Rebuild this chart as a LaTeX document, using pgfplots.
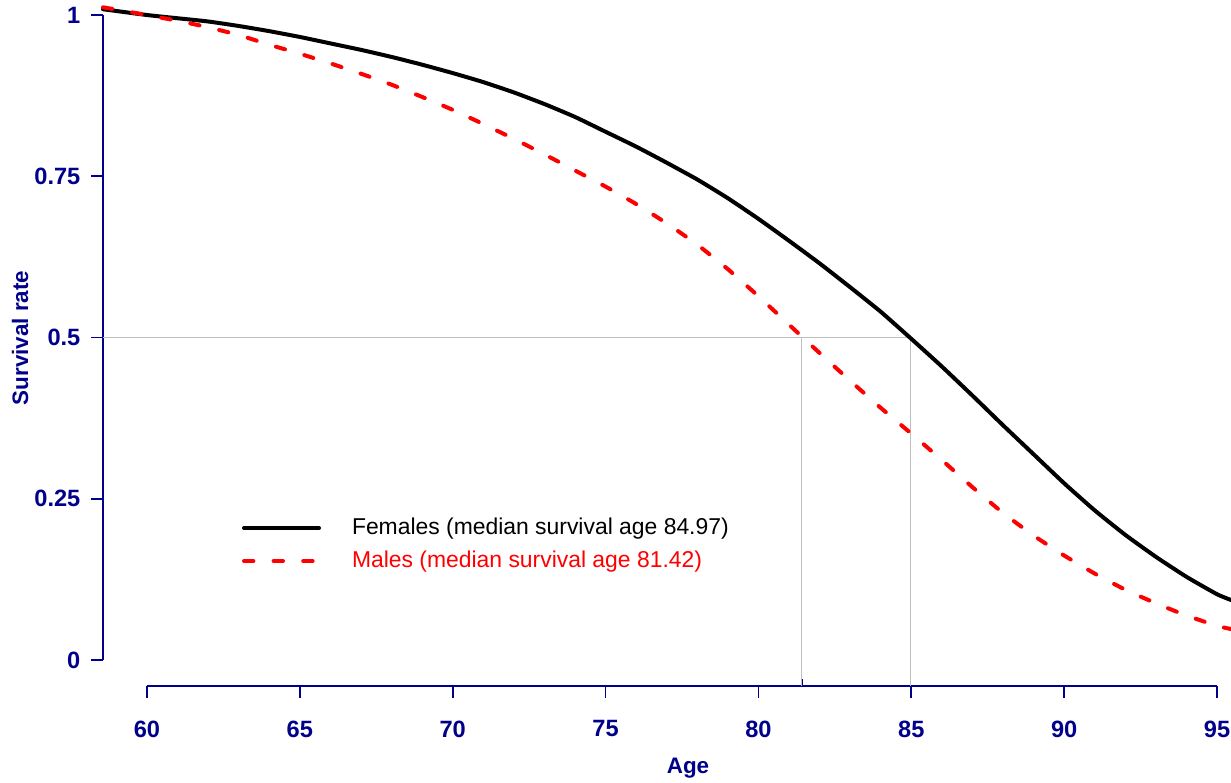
\documentclass[border=0pt]{standalone}
\usepackage{pgfplots}
\pgfplotsset{compat=1.18}
\usepackage{fontspec}
\setmainfont{Liberation Sans}
\definecolor{axnavy}{RGB}{0,0,139}
\definecolor{rgrey}{RGB}{190,190,190}
\definecolor{rred}{RGB}{255,0,0}

\pgfplotstableread{
age  val
58.561 1.009
60 1.000
61 0.995
62 0.990
63 0.983
64 0.975
65 0.966
66 0.956
67 0.946
68 0.935
69 0.923
70 0.910
71 0.896
72 0.880
73 0.862
74 0.842
75 0.819
76 0.796
77 0.771
78 0.745
79 0.716
80 0.684
81 0.650
82 0.615
83 0.578
84 0.540
85 0.498
86 0.455
87 0.410
88 0.364
89 0.319
90 0.274
91 0.232
92 0.194
93 0.160
94 0.129
95 0.102
95.458 0.093
}\females

\pgfplotstableread{
age  val
58.561 1.012
60 1.000
61 0.991
62 0.981
63 0.969
64 0.954
65 0.940
66 0.925
67 0.909
68 0.892
69 0.873
70 0.853
71 0.831
72 0.808
73 0.784
74 0.759
75 0.734
76 0.707
77 0.677
78 0.644
79 0.606
80 0.564
81 0.520
82 0.476
83 0.433
84 0.391
85 0.351
86 0.310
87 0.268
88 0.228
89 0.193
90 0.162
91 0.134
92 0.109
93 0.088
94 0.069
95 0.053
95.458 0.048
}\males

\begin{document}
\begin{tikzpicture}
\begin{axis}[
  name=ax,
  scale only axis, width=564pt, height=343pt,
  xmin=58.561, xmax=95.458, ymin=-0.0403, ymax=1.0233,
  axis x line*=bottom, axis y line*=left,
  axis line style={draw=none},
  clip=false,
  xtick={60,65,70,75,80,85,90,95},
  xticklabels={60,65,70,75,80,85,90,95},
  ytick={0,0.25,0.5,0.75,1},
  yticklabels={0,0.25,0.5,0.75,1},
  tick align=outside, major tick length=5.8pt,
  tick style={axnavy, line width=0.8pt},
  ticklabel style={font=\fontsize{11.8}{13}\selectfont\bfseries, text=axnavy},
  xticklabel style={yshift=-8pt},
  yticklabel style={xshift=-2pt},
  extra x ticks={81.42,84.97},
  extra x tick labels={},
  extra x tick style={tick align=inside, major tick length=3.5pt, grid=none},
  xlabel={Age},
  ylabel={Survival rate},
  label style={font=\fontsize{11.2}{13}\selectfont\bfseries, text=axnavy},
  xlabel style={at={(axis description cs:0.5186,0)}, anchor=center, yshift=-41pt},
  ylabel style={at={(axis description cs:0,0.5)}, anchor=center, yshift=41.5pt, xshift=2.5pt},
  legend style={at={(axis cs:63.108,0.179)}, anchor=west, draw=none, fill=none,
    inner sep=0pt, outer sep=0pt, row sep=4.5pt,
    font=\fontsize{11.45}{14}\selectfont,
    nodes={inner sep=0pt, text height=9pt, text depth=3pt},
    /tikz/every odd column/.append style={column sep=15.5pt}},
  legend image code/.code={\draw[#1] (0pt,0pt) -- (37.5pt,0pt);},
  legend cell align=left,
]
\draw[axnavy, line width=0.8pt] (axis cs:60,-0.0403) -- (axis cs:95,-0.0403);
\draw[axnavy, line width=0.8pt] (axis cs:58.561,0) -- (axis cs:58.561,1);
\addplot[forget plot, rgrey, line width=0.6pt] coordinates {(58.561,0.5) (84.97,0.5)};
\addplot[forget plot, rgrey, line width=0.6pt] coordinates {(81.42,0.5) (81.42,-0.0403)};
\addplot[forget plot, rgrey, line width=0.6pt] coordinates {(84.97,0.5) (84.97,-0.0403)};
\addplot[black, line width=2pt, line cap=round, smooth, tension=0.3] table[x=age,y=val] {\females};
\addlegendentry{Females (median survival age 84.97)}
\addplot[rred, line width=2pt, line cap=round, dash pattern=on 4.7pt off 10.1pt, smooth, tension=0.3] table[x=age,y=val] {\males};
\addlegendentry{\textcolor{rred}{Males (median survival age 81.42)}}
\end{axis}
\pgfresetboundingbox
\path ([xshift=-51.5pt,yshift=-48pt]ax.south west) rectangle (ax.north east);
\end{tikzpicture}
\end{document}
